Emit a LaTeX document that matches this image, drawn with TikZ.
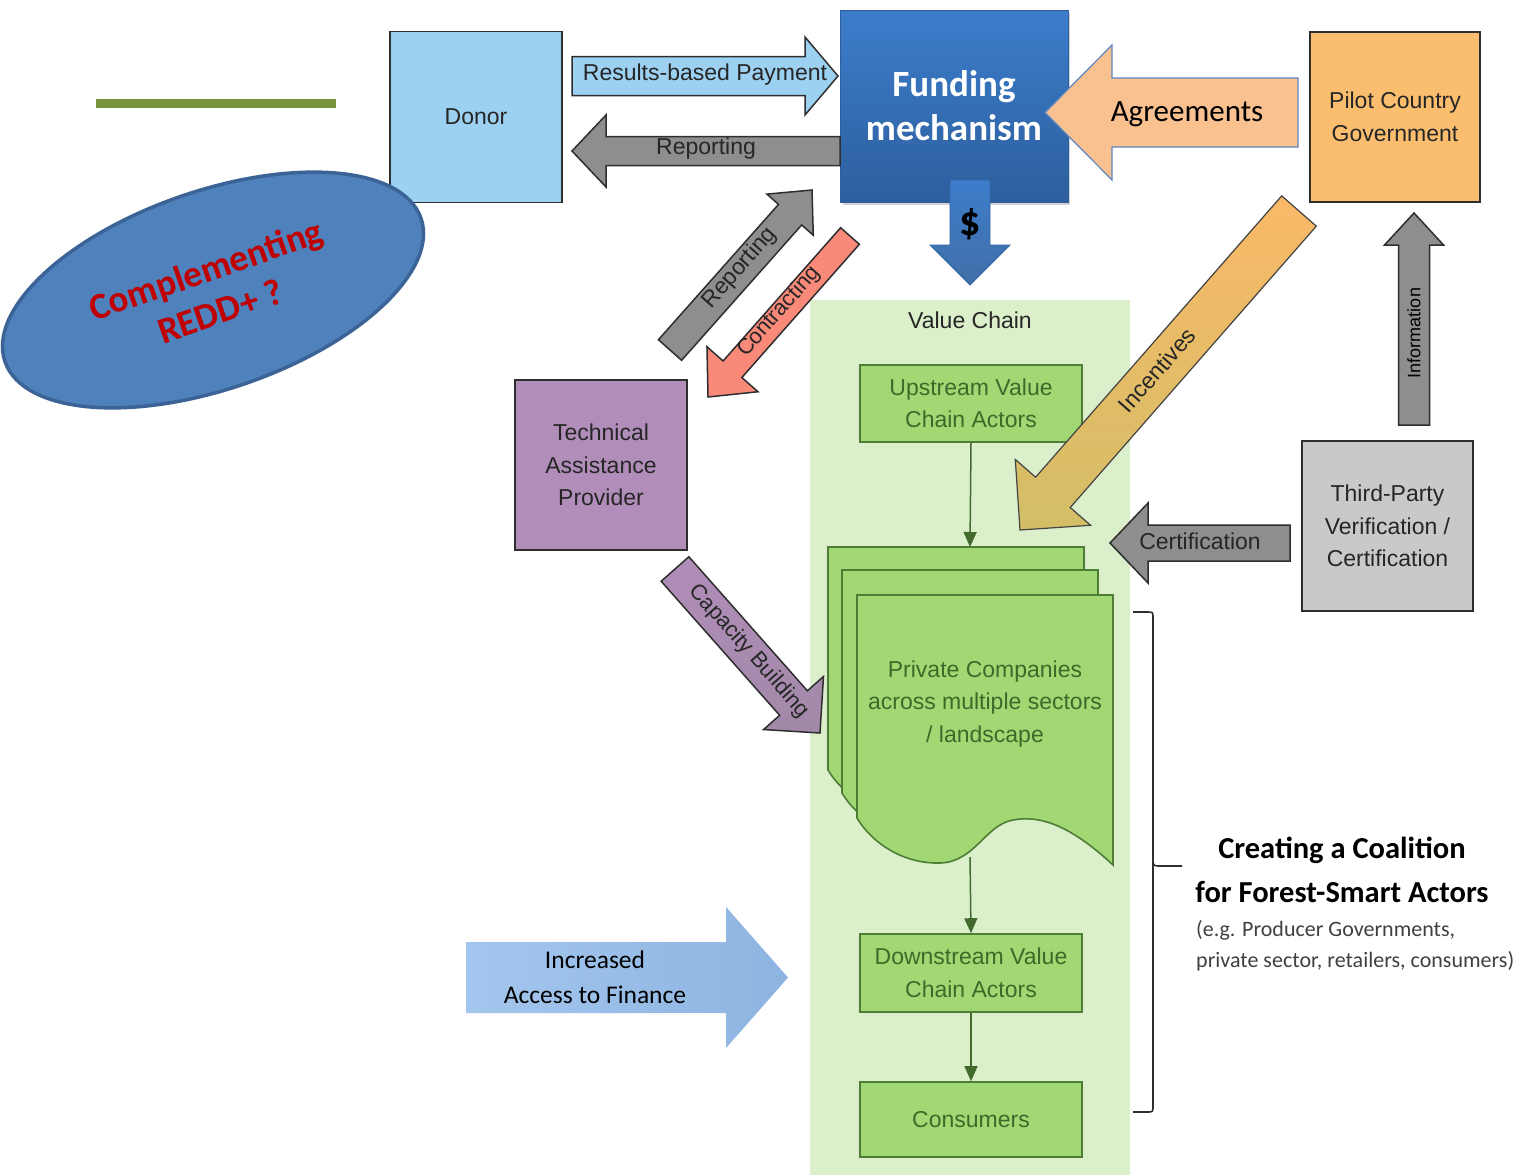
\documentclass[tikz,border=0pt]{standalone}
\usepackage{fontspec}
\setmainfont{Liberation Sans}
\newfontfamily\calfont{Carlito}
\usetikzlibrary{calc,shapes.geometric,arrows.meta}
\definecolor{donorc}{HTML}{9CD1F1}
\definecolor{fundtop}{HTML}{3C7DCB}
\definecolor{fundbot}{HTML}{2D5F9E}
\definecolor{pilotc}{HTML}{FBBE6F}
\definecolor{tac}{HTML}{B18DB9}
\definecolor{thirdc}{HTML}{C9C9C9}
\definecolor{gfill}{HTML}{A1D873}
\definecolor{gline}{HTML}{4E7D35}
\definecolor{gtext}{HTML}{3D6A29}
\definecolor{vcbg}{HTML}{DCEFCB}
\definecolor{grayarr}{HTML}{8E8E8E}
\definecolor{contr}{HTML}{F98A7A}
\definecolor{incor}{HTML}{FAB968}
\definecolor{incbot}{HTML}{D2BE66}
\definecolor{agree}{HTML}{F9C18F}
\definecolor{agreeb}{HTML}{5B86C0}
\definecolor{incfinL}{HTML}{A3C6EE}
\definecolor{incfinR}{HTML}{8DB4E0}
\definecolor{ellf}{HTML}{4F81BD}
\definecolor{elld}{HTML}{3B6396}
\definecolor{redt}{HTML}{C00000}
\definecolor{olivec}{HTML}{77933C}
\definecolor{boxline}{HTML}{2E2E2E}
\newcommand\lbl{\fontsize{23}{32.5}\selectfont}
% style, tail, tip, half body, half head, head length
\newcommand\fatarrow[6]{%
  \coordinate (fah) at ($(#3)!#6!(#2)$);
  \draw[#1] ($(#2)!#4!90:(#3)$) -- ($(fah)!#4!90:(#3)$) -- ($(fah)!#5!90:(#3)$) -- (#3)
    -- ($(fah)!#5!-90:(#3)$) -- ($(fah)!#4!-90:(#3)$) -- ($(#2)!#4!-90:(#3)$) -- cycle;}
\newcommand\docpath[2]{%
  \filldraw[draw=gline, fill=gfill, line width=1.6pt, shift={(#1,#2)}]
    (857,595) -- (1113,595) -- (1113,865)
    .. controls (1070,825) and (1040,815) .. (1013,820)
    .. controls (985,825) and (975,862) .. (940,863)
    .. controls (900,864) and (870,840) .. (857,818) -- cycle;}
\begin{document}
\begin{tikzpicture}[x=1pt,y=-1pt,
  box/.style={draw=boxline, line width=1.8pt, align=center, font=\lbl, inner sep=0pt, text=black!85},
  gbox/.style={draw=gline, fill=gfill, line width=1.6pt, align=center, font=\lbl, text=gtext,
    minimum width=222pt, inner sep=0pt},
  flow/.style={draw=gline!85!black, line width=1.5pt, -{Triangle[length=15pt,width=13pt]}},
  arrlbl/.style={font=\lbl, text=black!85, inner sep=0pt},
  fatline/.style={draw=boxline, line width=1.5pt}]
\useasboundingbox (0,0) rectangle (1525,1175);
\fill[white] (0,0) rectangle (1525,1175);

% value chain background
\fill[vcbg] (810,300) rectangle (1130,1175);
\node[font=\lbl, text=black!85] (vc) at (970,320) {Value Chain};

% decorative line
\draw[line width=9pt, olivec] (96,103) -- (336,103);

% boxes
\node[box, fill=donorc, minimum width=172pt, minimum height=171pt] (donor) at (476,117) {Donor};
\fill[black!18] (843,13) rectangle (1070,205);
\node[draw=fundbot, line width=1pt, top color=fundtop, bottom color=fundbot,
  minimum width=228pt, minimum height=192pt, text=white, align=center, inner sep=0pt,
  font=\calfont\bfseries\fontsize{37}{44}\selectfont] (fund) at (954,106) {Funding\\mechanism};
\node[box, fill=pilotc, minimum width=170pt, minimum height=170pt] (pilot) at (1395,117) {Pilot Country\\Government};
\node[box, fill=tac, minimum width=172pt, minimum height=170pt] (ta) at (601,465) {Technical\\Assistance\\Provider};
\node[box, fill=thirdc, minimum width=171pt, minimum height=170pt] (third) at (1387.5,526) {Third-Party\\Verification /\\Certification};

% value chain boxes
\node[gbox, minimum height=77pt] (up) at (971,403.5) {Upstream Value\\Chain Actors};
\docpath{-29}{-48}
\docpath{-15}{-25}
\docpath{0}{0}
\node[font=\lbl, text=gtext, align=center] (priv) at (985,704) {Private Companies\\across multiple sectors\\/ landscape};
\coordinate (stacktop) at (970,547);
\coordinate (stackbot) at (970,857);
\node[gbox, minimum height=78pt] (down) at (971,973) {Downstream Value\\Chain Actors};
\node[gbox, minimum height=75pt] (cons) at (971,1119.5) {Consumers};
\draw[flow] (up.south) -- (stacktop);
\draw[flow] (stackbot) -- (down.north);
\draw[flow] (down.south) -- (cons.north);

% arrow end points
\coordinate (rbpA) at (572,76);   \coordinate (rbpB) at (838,76);
\coordinate (repA) at (840,151);  \coordinate (repB) at (572,151);
\coordinate (agrA) at (1298,112.5); \coordinate (agrB) at (1045,112.5);
\coordinate (dolA) at (970,180);  \coordinate (dolB) at (970,285);
\coordinate (rdA) at (670,350);   \coordinate (rdB) at (812,190);
\coordinate (ctA) at (850,236);   \coordinate (ctB) at (708,397);
\coordinate (cbA) at (675,569);   \coordinate (cbB) at (820,733);
\coordinate (inA) at (1299,211);  \coordinate (inB) at (1020,530);
\coordinate (ceA) at (1290,543);  \coordinate (ceB) at (1110,543);
\coordinate (ifA) at (1414,425);  \coordinate (ifB) at (1414,213);
\coordinate (fiA) at (466,977.5); \coordinate (fiB) at (788,977.5);

% fat arrows
\fatarrow{fatline, fill=donorc}{rbpA}{rbpB}{19.5pt}{39pt}{33pt}
\node[arrlbl] (rbpT) at (705,75) {Results-based Payment};
\fatarrow{fatline, fill=grayarr}{repA}{repB}{14.5pt}{36pt}{34pt}
\node[arrlbl] (repT) at (706,149) {Reporting};
\fatarrow{draw=agreeb, line width=1.2pt, fill=agree}{agrA}{agrB}{34.5pt}{67.5pt}{67pt}
\node[font=\calfont\fontsize{31}{36}\selectfont, inner sep=0pt] (agrT) at (1187,114) {Agreements};
\fatarrow{draw=fundtop!80!black, line width=0.8pt, top color=fundtop, bottom color=fundbot!90}{dolA}{dolB}{20pt}{40pt}{40pt}
\node[font=\calfont\bfseries\fontsize{42}{46}\selectfont, inner sep=0pt] (dolT) at (970,224) {\$};
\fatarrow{fatline, fill=grayarr}{rdA}{rdB}{15.5pt}{31pt}{33pt}
\node[arrlbl, rotate=48.6] (rdT) at (740,268) {Reporting};
\fatarrow{fatline, fill=contr}{ctA}{ctB}{12.5pt}{34pt}{37pt}
\node[arrlbl, rotate=48.6, font=\fontsize{22}{26}\selectfont] (ctT) at (779,312) {Contracting};
\fatarrow{fatline, top color=tac, bottom color=tac!70!gray}{cbA}{cbB}{18.5pt}{40pt}{40pt}
\node[arrlbl, rotate=-48.5, font=\fontsize{22}{26}\selectfont] (cbT) at (749,651) {Capacity Building};
\fatarrow{draw=boxline!90, line width=1.2pt, top color=incor, middle color=incor, bottom color=incbot}{inA}{inB}{23pt}{50pt}{50pt}
\node[arrlbl, rotate=48.6] (inT) at (1157,370) {Incentives};
\fatarrow{fatline, fill=grayarr}{ceA}{ceB}{18pt}{40pt}{38pt}
\node[arrlbl] (ceT) at (1200,541) {Certification};
\fatarrow{fatline, fill=grayarr}{ifA}{ifB}{15.5pt}{29.5pt}{32pt}
\node[arrlbl, rotate=90, text=black, font=\fontsize{18}{20}\selectfont] (ifT) at (1414,333) {Information};
\fatarrow{draw=none, left color=incfinL, right color=incfinR}{fiA}{fiB}{35.5pt}{70.5pt}{62pt}
\node[font=\calfont\fontsize{25.5}{35}\selectfont, align=center, inner sep=0pt] (fiT) at (595,977) {Increased\\Access to Finance};

% ellipse
\node[ellipse, draw=elld, line width=3.5pt, fill=ellf, minimum width=440pt, minimum height=198pt,
  rotate=19, text=redt, align=center, inner sep=0pt,
  font=\calfont\bfseries\fontsize{37}{44}\selectfont] (ell) at (213,290) {Complementing\\REDD+ ?};

% brace
\draw[line width=1.6pt, boxline] (1133,612) -- (1147,612) .. controls (1153,612) .. (1153,618)
  -- (1153,858) .. controls (1153,866) .. (1161,866) -- (1182,866);
\draw[line width=1.6pt, boxline] (1153,858) -- (1153,1106) .. controls (1153,1112) .. (1147,1112) -- (1133,1112);

% coalition text
\node[font=\calfont\bfseries\fontsize{30.5}{44}\selectfont, align=center, inner sep=0pt] (coal) at (1342,870)
  {Creating a Coalition\\for Forest-Smart Actors};
\node[anchor=west, font=\calfont\fontsize{22}{31}\selectfont, align=left, text=black!75, inner sep=0pt] (eg) at (1196,946)
  {(e.g. Producer Governments,\\private sector, retailers, consumers)};
\end{tikzpicture}
\end{document}
